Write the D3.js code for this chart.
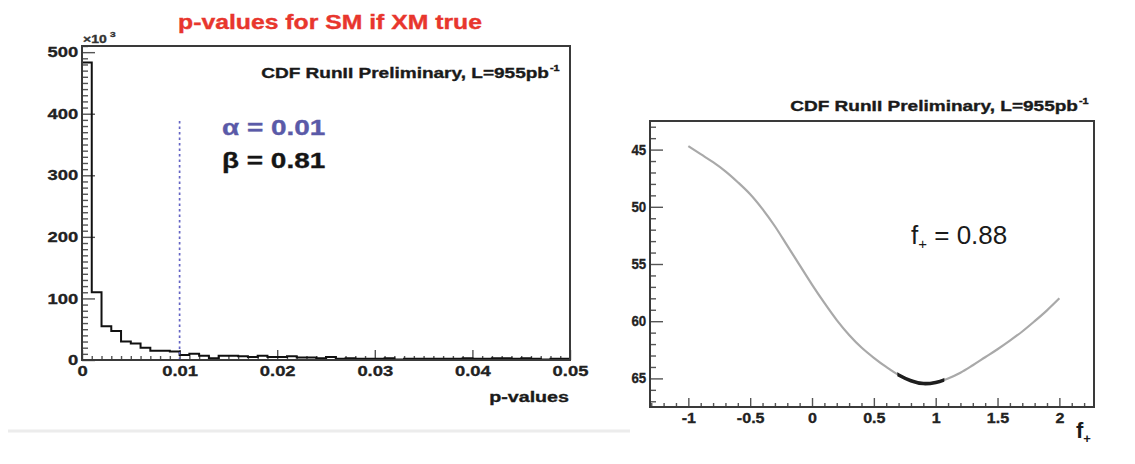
<!DOCTYPE html>
<html>
<head>
<meta charset="utf-8">
<script src="https://cdn.jsdelivr.net/npm/d3@7"></script>
<style>
  html, body { margin: 0; padding: 0; background: #ffffff; }
  svg { display: block; }
  text { font-family: "Liberation Sans", Arial, Helvetica, sans-serif; }
</style>
</head>
<body>
<svg id="chart" width="1135" height="464"></svg>
<script>
// ---- Left panel: p-value histogram (counts in units of 10^3, bin width 0.001) ----
const binWidth = 0.001;
const pCounts = [
  483, 110, 55, 47, 30, 27, 20, 15, 15, 14,
  8, 10, 7, 3, 7, 7, 6, 5, 7, 5,
  5, 6, 4, 4, 3, 5, 2, 3, 2, 2,
  2, 3, 1, 2, 2, 2, 2, 2, 2, 3,
  2, 2, 3, 3, 2, 3, 2, 1, 2, 2
];
const pXTicks = [0, 0.01, 0.02, 0.03, 0.04, 0.05];
const pYTicks = [0, 100, 200, 300, 400, 500];
const alphaCut = 0.01;
const alphaLineTop = 390;

// ---- Right panel: likelihood scan versus f+ ----
const fPlus = [-1.0, -0.9, -0.8, -0.7, -0.6, -0.5, -0.4, -0.3, -0.2, -0.1,
               0.0, 0.1, 0.2, 0.3, 0.4, 0.5, 0.6, 0.7, 0.8, 0.9,
               1.0, 1.1, 1.2, 1.3, 1.4, 1.5, 1.6, 1.7, 1.8, 1.9, 2.0];
const scanValues = [44.7, 45.4, 46.1, 46.9, 47.85, 48.9, 50.2, 51.7, 53.4, 55.1,
                    56.8, 58.4, 59.9, 61.2, 62.3, 63.2, 64.0, 64.7, 65.2, 65.45,
                    65.35, 65.0, 64.5, 63.85, 63.15, 62.45, 61.7, 60.9, 60.0, 59.05, 58.0];
const fInterval = [0.69, 1.07];
const fXTicks = [-1, -0.5, 0, 0.5, 1, 1.5, 2];
const fYTicks = [45, 50, 55, 60, 65];

const svg = d3.select("#chart");
const FRAME = "#3a3a3a";
const SX = 1.27; // horizontal stretch applied to lettering

// Helper: place a stretched text at (x, y)
function label(g, x, y, str, opts = {}) {
  const fill = opts.fill || "#1a1a1a";
  const t = g.append("text")
    .attr("transform", `translate(${x},${y}) scale(${opts.sx || SX},1)`)
    .attr("text-anchor", opts.anchor || "start")
    .attr("font-size", opts.size || 15)
    .attr("font-weight", opts.weight || "bold")
    .attr("fill", fill)
    .attr("stroke", opts.heavy === false ? "none" : fill)
    .attr("stroke-width", 0.35)
    .text(str);
  return t;
}

function styleTickText(sel, size, sx) {
  sel.attr("font-size", size).attr("font-weight", "bold").attr("fill", "#222")
    .attr("stroke", "#222").attr("stroke-width", 0.3)
    .attr("font-family", "Liberation Sans, Arial, sans-serif")
    .attr("transform", `scale(${sx},1)`);
}

// Panel backdrop line under the left figure
svg.append("line").attr("x1", 8).attr("x2", 630).attr("y1", 431).attr("y2", 431)
  .attr("stroke", "#ececec").attr("stroke-width", 3);

// ================= Left panel =================
const L = { left: 82, right: 570, top: 46, bottom: 360 };
const xP = d3.scaleLinear().domain([0, 0.05]).range([L.left, L.right]);
const yP = d3.scaleLinear().domain([0, 510]).range([L.bottom, L.top]);
const gL = svg.append("g");

const xMinorP = d3.range(0, 51).map(i => i * 0.001).filter(v => Math.round(v * 1000) % 10 !== 0);
const yMinorP = d3.range(0, 52).map(i => i * 10).filter(v => v % 100 !== 0);

function styleAxis(sel) {
  sel.select(".domain").remove();
  sel.selectAll(".tick line").attr("stroke", "#555").attr("stroke-width", 1.4);
}

gL.append("g").attr("transform", `translate(0,${L.bottom})`)
  .call(d3.axisBottom(xP).tickValues(xMinorP).tickSizeInner(-4).tickFormat(""))
  .call(styleAxis);
gL.append("g").attr("transform", `translate(${L.left},0)`)
  .call(d3.axisLeft(yP).tickValues(yMinorP).tickSizeInner(-6).tickFormat(""))
  .call(styleAxis);

const xAxisP = gL.append("g").attr("transform", `translate(0,${L.bottom})`)
  .call(d3.axisBottom(xP).tickValues(pXTicks).tickSizeInner(-10).tickPadding(3)
    .tickFormat(d => d === 0 ? "0" : d3.format(".2f")(d)))
  .call(styleAxis);
xAxisP.selectAll(".tick text").call(styleTickText, 14.5, SX).attr("dy", "0.9em");

const yAxisP = gL.append("g").attr("transform", `translate(${L.left},0)`)
  .call(d3.axisLeft(yP).tickValues(pYTicks).tickSizeInner(-13).tickPadding(3))
  .call(styleAxis);
yAxisP.selectAll(".tick text").call(styleTickText, 14.5, SX);

// histogram outline (step)
const steps = [];
pCounts.forEach((c, i) => {
  steps.push([i * binWidth, c]);
  steps.push([(i + 1) * binWidth, c]);
});
steps.unshift([0, 0]);
steps.push([pCounts.length * binWidth, 0]);
gL.append("path")
  .attr("d", d3.line().x(d => xP(d[0])).y(d => yP(d[1]))(steps))
  .attr("fill", "none").attr("stroke", "#111").attr("stroke-width", 2);

// alpha cut line
gL.append("line")
  .attr("x1", xP(alphaCut)).attr("x2", xP(alphaCut))
  .attr("y1", yP(0)).attr("y2", yP(alphaLineTop))
  .attr("stroke", "#6464c4").attr("stroke-width", 1.7).attr("stroke-dasharray", "2.5,3");

// frame
gL.append("rect")
  .attr("x", L.left).attr("y", L.top)
  .attr("width", L.right - L.left).attr("height", L.bottom - L.top)
  .attr("fill", "none").attr("stroke", FRAME).attr("stroke-width", 2);

// texts
label(gL, 330, 29, "p-values for SM if XM true", { anchor: "middle", size: 19.5, fill: "#e8362d" });
label(gL, 549, 78, "CDF RunII Preliminary, L=955pb", { anchor: "end", size: 15 });
label(gL, 550, 71, "-1", { size: 8.5 });
label(gL, 83, 43, "×10", { size: 11, fill: "#333" });
label(gL, 110, 37, "3", { size: 8, fill: "#333" });
label(gL, 222, 135, "α = 0.01", { size: 22, fill: "#5a5aa8" });
label(gL, 222, 168, "β = 0.81", { size: 22, fill: "#151515" });
label(gL, 569, 402, "p-values", { anchor: "end", size: 15.5 });

// ================= Right panel =================
const R = { left: 650, right: 1094, top: 121, bottom: 407 };
const xF = d3.scaleLinear().domain([-1.31, 2.28]).range([R.left, R.right]);
const yF = d3.scaleLinear().domain([42.5, 67.5]).range([R.top, R.bottom]);
const gR = svg.append("g");

const xMinorF = d3.range(-13, 23).map(i => i / 10).filter(v => Math.abs(v * 2 - Math.round(v * 2)) > 1e-6);
const yMinorF = d3.range(43, 68).filter(v => v % 5 !== 0);

gR.append("g").attr("transform", `translate(0,${R.bottom})`)
  .call(d3.axisBottom(xF).tickValues(xMinorF).tickSizeInner(-4).tickFormat(""))
  .call(styleAxis);
gR.append("g").attr("transform", `translate(${R.left},0)`)
  .call(d3.axisLeft(yF).tickValues(yMinorF).tickSizeInner(-6).tickFormat(""))
  .call(styleAxis);

const xAxisF = gR.append("g").attr("transform", `translate(0,${R.bottom})`)
  .call(d3.axisBottom(xF).tickValues(fXTicks).tickSizeInner(-9).tickPadding(3)
    .tickFormat(d => String(d)))
  .call(styleAxis);
xAxisF.selectAll(".tick text").call(styleTickText, 14, 1.15).attr("dy", "0.9em");

const yAxisF = gR.append("g").attr("transform", `translate(${R.left},0)`)
  .call(d3.axisLeft(yF).tickValues(fYTicks).tickSizeInner(-13).tickPadding(4))
  .call(styleAxis);
yAxisF.selectAll(".tick text").call(styleTickText, 14, 0.95);

// scan curve
const scan = fPlus.map((f, i) => [f, scanValues[i]]);
const scanLine = d3.line().x(d => xF(d[0])).y(d => yF(d[1])).curve(d3.curveCatmullRom);
gR.append("path").attr("d", scanLine(scan))
  .attr("fill", "none").attr("stroke", "#a9a9a9").attr("stroke-width", 2.2);

// 1-sigma interval drawn thicker
svg.append("clipPath").attr("id", "intervalClip")
  .append("rect")
  .attr("x", xF(fInterval[0])).attr("width", xF(fInterval[1]) - xF(fInterval[0]))
  .attr("y", R.top).attr("height", R.bottom - R.top);
gR.append("path").attr("d", scanLine(scan))
  .attr("clip-path", "url(#intervalClip)")
  .attr("fill", "none").attr("stroke", "#1e1e1e").attr("stroke-width", 3.6);

// frame
gR.append("rect")
  .attr("x", R.left).attr("y", R.top)
  .attr("width", R.right - R.left).attr("height", R.bottom - R.top)
  .attr("fill", "none").attr("stroke", FRAME).attr("stroke-width", 2);

// texts
label(gR, 1078, 111, "CDF RunII Preliminary, L=955pb", { anchor: "end", size: 15 });
label(gR, 1079, 104, "-1", { size: 8.5 });

const fText = gR.append("text")
  .attr("transform", "translate(911,244)")
  .attr("font-size", 26).attr("fill", "#1a1a1a");
fText.append("tspan").text("f");
fText.append("tspan").attr("font-size", 15).attr("dy", 5).text("+");
fText.append("tspan").attr("dy", -5).text(" = 0.88");

const fAxis = gR.append("text")
  .attr("transform", "translate(1076,438)")
  .attr("font-size", 22).attr("font-weight", "bold").attr("fill", "#1a1a1a");
fAxis.append("tspan").text("f");
fAxis.append("tspan").attr("font-size", 13).attr("dy", 5).text("+");
</script>
</body>
</html>
